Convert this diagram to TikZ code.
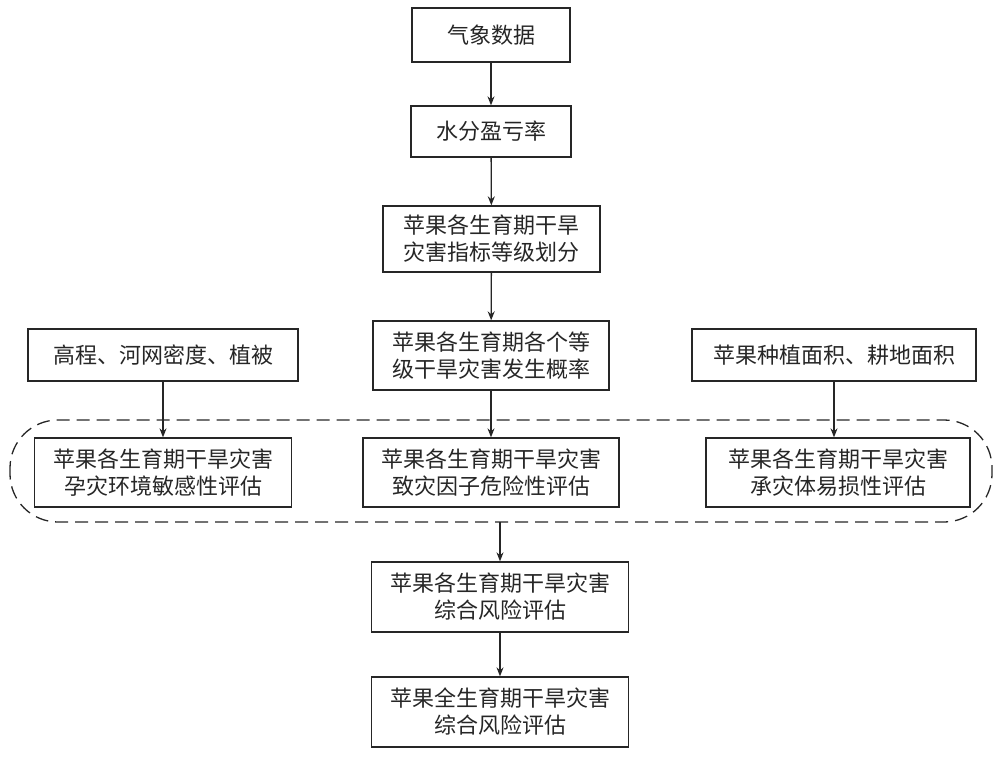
\documentclass[tikz,border=0pt]{standalone}
\usepackage{fontspec}
\newfontfamily\cjk{Noto Sans CJK SC}
\usetikzlibrary{arrows.meta}
\definecolor{ink}{gray}{0.15}
\tikzset{
  box/.style={draw=ink, line width=1.3pt, rectangle, inner sep=0pt, align=center,
    font=\cjk\fontsize{22pt}{27pt}\selectfont, text=ink},
  arr/.style={draw=ink, line width=1.3pt, -{Stealth[length=9pt,width=7pt]}},
  dashbox/.style={draw=ink, line width=1.3pt, dash pattern=on 13pt off 7pt, rounded corners=48pt}
}
\begin{document}
\begin{tikzpicture}[x=1pt,y=1pt]
\useasboundingbox (0,0) rectangle (1000,756);
\node[box, minimum width=158pt, minimum height=54pt] (a) at (491,721) {气象数据};
\node[box, minimum width=160pt, minimum height=51pt] (b) at (491,624.5) {水分盈亏率};
\node[box, minimum width=217pt, minimum height=66pt] (c) at (491.5,517) {苹果各生育期干旱\\灾害指标等级划分};
\node[box, minimum width=236pt, minimum height=69pt] (d) at (491,400.5) {苹果各生育期各个等\\级干旱灾害发生概率};
\node[box, minimum width=270pt, minimum height=52pt] (l1) at (163,401) {高程、河网密度、植被};
\node[box, minimum width=284pt, minimum height=52pt] (r1) at (834,401) {苹果种植面积、耕地面积};
\node[box, minimum width=257pt, minimum height=69pt] (l2) at (163,283.5) {苹果各生育期干旱灾害\\孕灾环境敏感性评估};
\node[box, minimum width=256pt, minimum height=69pt] (m2) at (491,283.5) {苹果各生育期干旱灾害\\致灾因子危险性评估};
\node[box, minimum width=264pt, minimum height=69pt] (r2) at (838,283.5) {苹果各生育期干旱灾害\\承灾体易损性评估};
\node[box, minimum width=257pt, minimum height=70pt] (e) at (500,159) {苹果各生育期干旱灾害\\综合风险评估};
\node[box, minimum width=257pt, minimum height=70pt] (f) at (500,44) {苹果全生育期干旱灾害\\综合风险评估};
\draw[dashbox] (10,234) rectangle (992,336);
\coordinate (g) at (500,234);
\draw[arr] (a) -- (b);
\draw[arr] (b) -- (c);
\draw[arr] (c) -- (d);
\draw[arr] (d) -- (m2);
\draw[arr] (l1) -- (l2);
\draw[arr] (r1.south) -- (r1.south |- r2.north);
\draw[arr] (g) -- (e);
\draw[arr] (e) -- (f);
\end{tikzpicture}
\end{document}
